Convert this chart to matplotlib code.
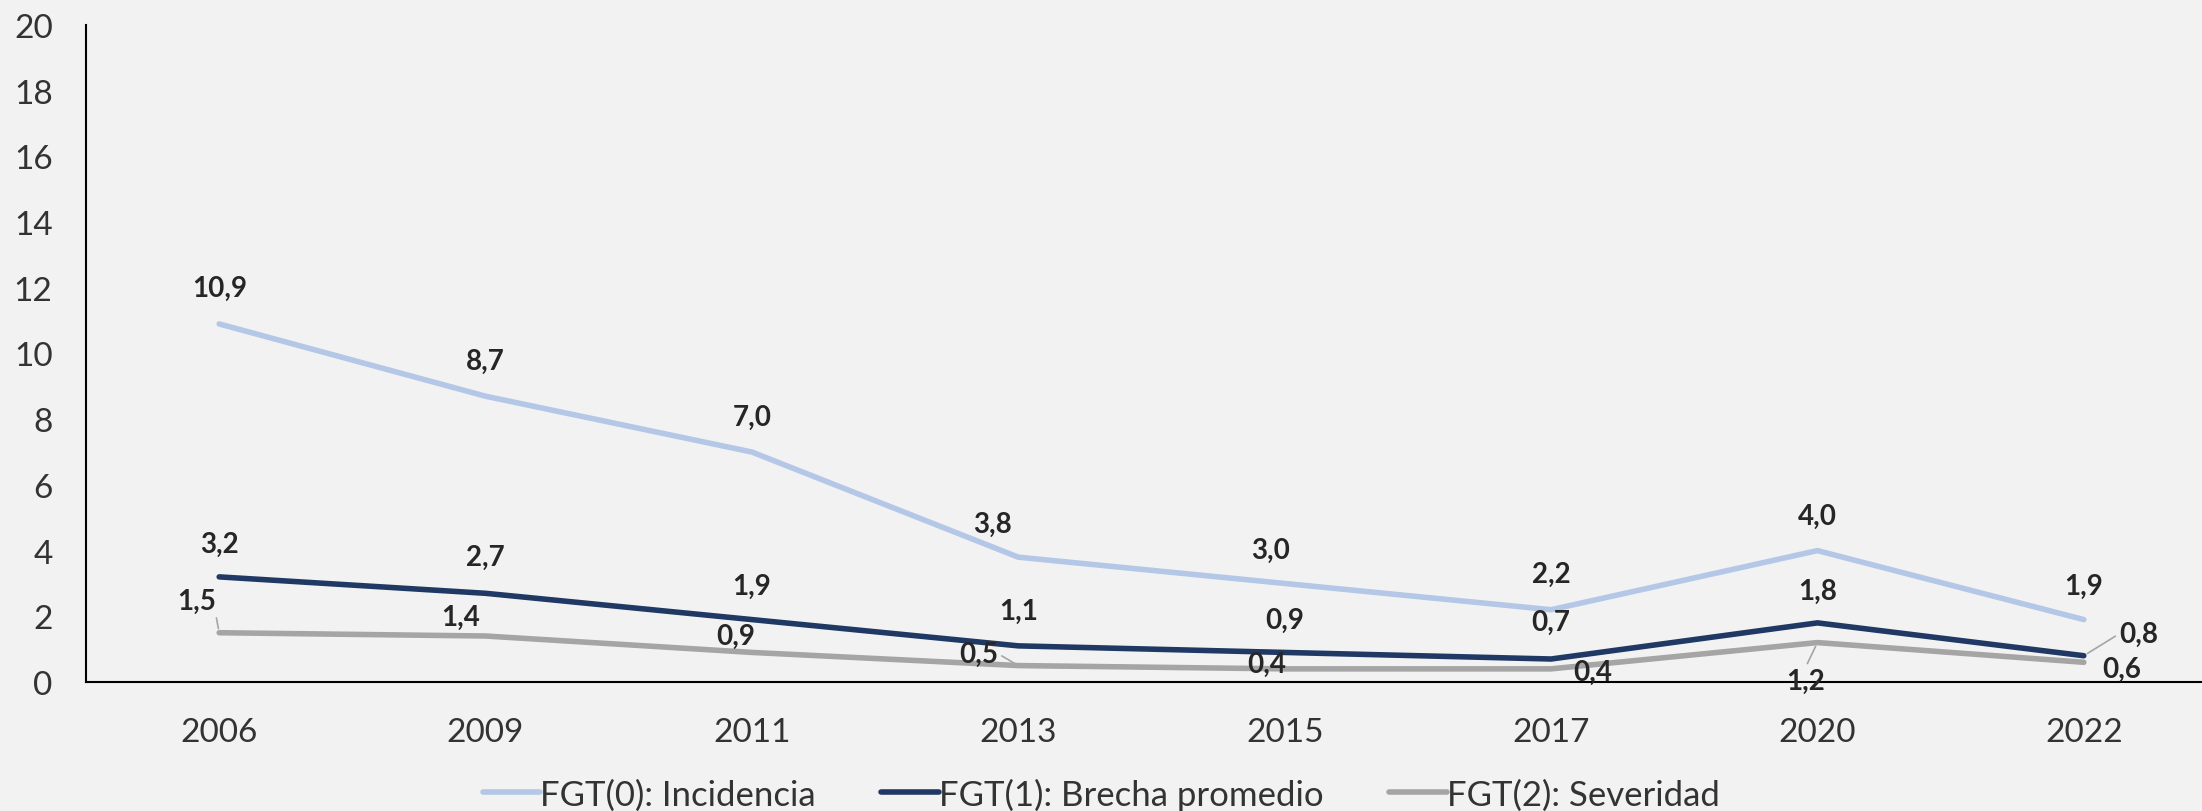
import matplotlib.pyplot as plt

plt.rcParams['font.family'] = ['Lato', 'DejaVu Sans']

# datos
anios = ["2006", "2009", "2011", "2013", "2015", "2017", "2020", "2022"]
fgt0 = [10.9, 8.7, 7.0, 3.8, 3.0, 2.2, 4.0, 1.9]
fgt1 = [3.2, 2.7, 1.9, 1.1, 0.9, 0.7, 1.8, 0.8]
fgt2 = [1.5, 1.4, 0.9, 0.5, 0.4, 0.4, 1.2, 0.6]
nombres = ["FGT(0): Incidencia", "FGT(1): Brecha promedio", "FGT(2): Severidad"]
colores = ["#B4C7E7", "#203864", "#A5A5A5"]

# desplazamiento de las etiquetas (pixeles) respecto al punto
off0 = [(0, 36), (0, 35), (0, 35), (-26, 33), (-14, 34), (0, 36), (0, 35), (0, 34)]
off1 = [(0, 33), (0, 36), (0, 34), (0, 35), (0, 33), (0, 37), (0, 32), (55, 22)]
off2 = [(-23, 32), (-25, 19), (-16, 17), (-40, 12), (-18, 5), (42, -3), (-12, -38), (38, -7)]
# etiquetas con linea guia: indice -> relpos del texto
guias1 = {7: (0, 0.5)}
guias2 = {0: (1, 0), 3: (1, 0.5), 6: (0.5, 1)}

fig = plt.figure(figsize=(22.02, 8.12), dpi=100)
fig.patch.set_facecolor("#F2F2F2")
ax = fig.add_axes([86 / 2202, 1 - 683 / 812, (2217 - 86) / 2202, 657 / 812])
ax.set_facecolor("#F2F2F2")

x = list(range(len(anios)))
series = [fgt0, fgt1, fgt2]
offs = [off0, off1, off2]
guias = [{}, guias1, guias2]

for s, nombre, color in zip(series, nombres, colores):
    ax.plot(x, s, color=color, lw=4, solid_capstyle='round', label=nombre)

for s, off, g in zip(series, offs, guias):
    for i, v in enumerate(s):
        txt = f"{v:.1f}".replace(".", ",")
        kw = {}
        if i in g:
            kw["arrowprops"] = dict(arrowstyle="-", color="#A5A5A5", lw=1.2,
                                    relpos=g[i], shrinkA=1, shrinkB=3)
        ax.annotate(txt, (i, v), xytext=off[i], textcoords="offset pixels",
                    ha="center", va="center", fontsize=20, fontweight="bold",
                    color="#262626", **kw)

ax.set_xlim(-0.5, 7.5)
ax.set_ylim(0, 20)
ax.set_yticks(range(0, 21, 2))
ax.set_xticks(x)
ax.set_xticklabels(anios)
ax.tick_params(axis="both", length=0, labelsize=24, colors="#333333")
ax.tick_params(axis="y", pad=24)
ax.tick_params(axis="x", pad=25)
for lado in ["top", "right"]:
    ax.spines[lado].set_visible(False)
for lado in ["left", "bottom"]:
    ax.spines[lado].set_linewidth(1.5)
    ax.spines[lado].set_color("black")

fig.legend(loc="center", bbox_to_anchor=(0.5, 1 - 795 / 812), ncol=3,
           frameon=False, prop={"family": ["Lato"], "size": 25},
           handlelength=1.65, handletextpad=0.0, columnspacing=1.9,
           labelcolor="#333333")

plt.savefig("out.png", dpi=100, facecolor=fig.get_facecolor())
